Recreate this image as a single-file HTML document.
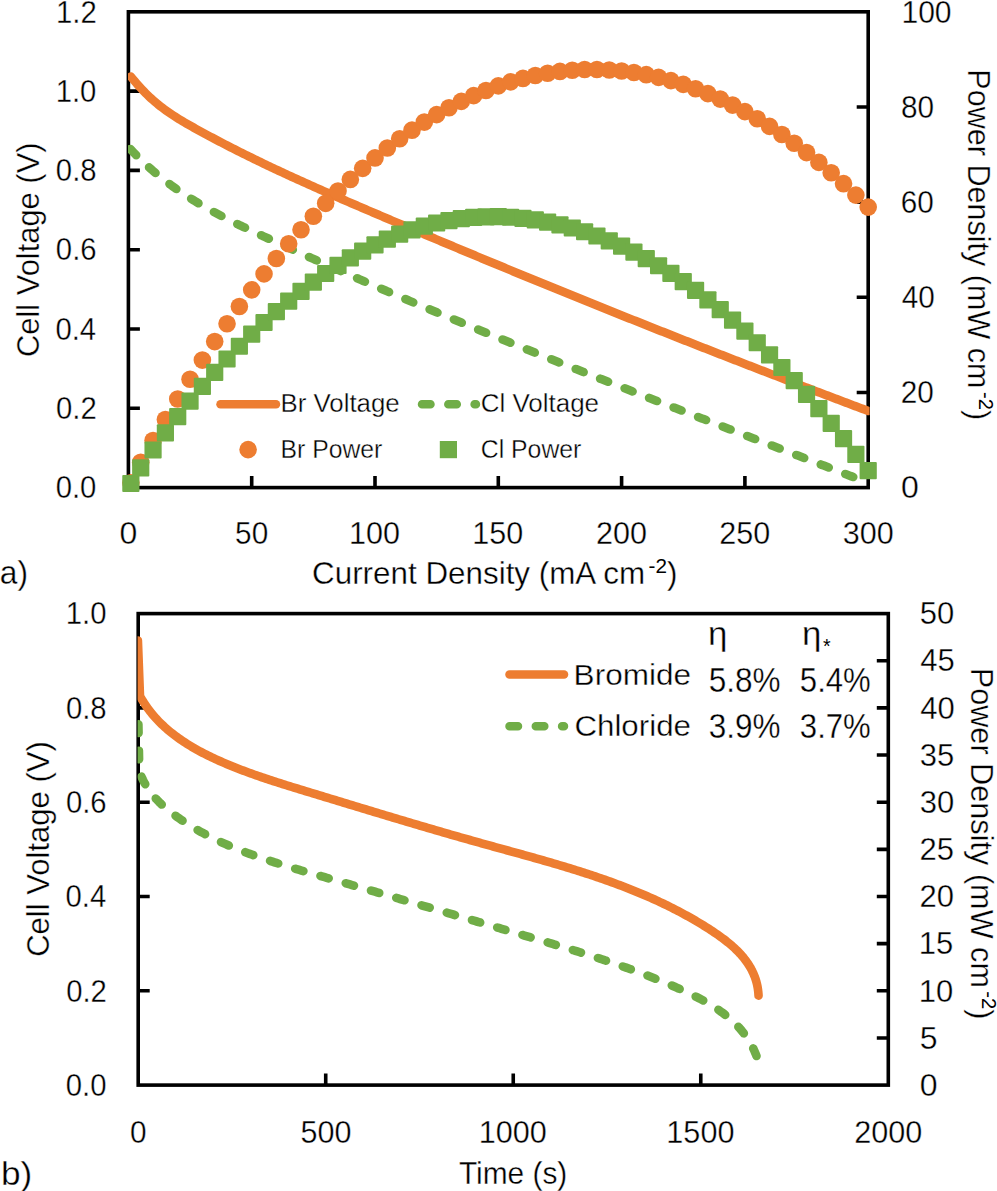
<!DOCTYPE html>
<html><head><meta charset="utf-8"><style>
html,body{margin:0;padding:0;background:#fff;overflow:hidden;}
svg{display:block;}
text{font-family:"Liberation Sans", sans-serif;}
</style></head><body>
<svg width="997" height="1191" viewBox="0 0 997 1191">
<rect width="997" height="1191" fill="#fff"/>
<defs><clipPath id="ca"><rect x="128.0" y="0" width="741.6" height="507.6"/></clipPath><clipPath id="cb"><rect x="137.6" y="583.6" width="770.0999999999999" height="600"/></clipPath></defs>
<rect x="128.4" y="11.8" width="739.80" height="475.80" fill="none" stroke="#000" stroke-width="3.6"/>
<path d="M128.4,408.30h11.5 M128.4,329.00h11.5 M128.4,249.70h11.5 M128.4,170.40h11.5 M128.4,91.10h11.5 M868.2,392.44h-11.5 M868.2,297.28h-11.5 M868.2,202.12h-11.5 M868.2,106.96h-11.5 M251.70,487.6v-11.5 M375.00,487.6v-11.5 M498.30,487.6v-11.5 M621.60,487.6v-11.5 M744.90,487.6v-11.5" stroke="#000" stroke-width="3.6" fill="none"/>
<g clip-path="url(#ca)">
<path d="M130.87,76.55 L132.71,78.87 L134.56,81.11 L136.41,83.29 L138.26,85.40 L140.11,87.44 L141.95,89.43 L143.80,91.35 L145.65,93.21 L147.50,95.02 L149.35,96.78 L151.19,98.48 L153.04,100.13 L154.89,101.74 L156.74,103.29 L158.59,104.81 L160.43,106.28 L162.28,107.71 L164.13,109.10 L165.98,110.45 L167.83,111.77 L169.67,113.05 L171.52,114.31 L173.37,115.53 L175.22,116.73 L177.06,117.90 L178.91,119.05 L180.76,120.18 L182.61,121.28 L184.46,122.37 L186.30,123.45 L188.15,124.51 L190.00,125.56 L191.85,126.60 L193.70,127.63 L195.54,128.65 L197.39,129.67 L199.24,130.69 L201.09,131.70 L202.94,132.70 L204.78,133.71 L206.63,134.70 L208.48,135.70 L210.33,136.69 L212.18,137.67 L214.02,138.65 L215.87,139.63 L217.72,140.60 L219.57,141.57 L221.42,142.54 L223.26,143.50 L225.11,144.46 L226.96,145.41 L228.81,146.36 L230.66,147.31 L232.50,148.25 L234.35,149.19 L236.20,150.13 L238.05,151.06 L239.90,151.99 L241.74,152.91 L243.59,153.83 L245.44,154.75 L247.29,155.66 L249.14,156.58 L250.98,157.48 L252.83,158.39 L254.68,159.29 L256.53,160.19 L258.37,161.09 L260.22,161.98 L262.07,162.87 L263.92,163.76 L265.77,164.64 L267.61,165.52 L269.46,166.40 L271.31,167.27 L273.16,168.15 L275.01,169.02 L276.85,169.88 L278.70,170.75 L280.55,171.61 L282.40,172.47 L284.25,173.33 L286.09,174.18 L287.94,175.04 L289.79,175.89 L291.64,176.74 L293.49,177.58 L295.33,178.42 L297.18,179.27 L299.03,180.11 L300.88,180.94 L302.73,181.78 L304.57,182.61 L306.42,183.44 L308.27,184.27 L310.12,185.10 L311.97,185.93 L313.81,186.75 L315.66,187.57 L317.51,188.39 L319.36,189.21 L321.21,190.03 L323.05,190.85 L324.90,191.66 L326.75,192.47 L328.60,193.28 L330.45,194.09 L332.29,194.90 L334.14,195.71 L335.99,196.52 L337.84,197.32 L339.68,198.13 L341.53,198.93 L343.38,199.73 L345.23,200.53 L347.08,201.33 L348.92,202.13 L350.77,202.93 L352.62,203.73 L354.47,204.52 L356.32,205.32 L358.16,206.11 L360.01,206.91 L361.86,207.70 L363.71,208.49 L365.56,209.29 L367.40,210.08 L369.25,210.87 L371.10,211.66 L372.95,212.45 L374.80,213.24 L376.64,214.03 L378.49,214.82 L380.34,215.61 L382.19,216.40 L384.04,217.19 L385.88,217.98 L387.73,218.76 L389.58,219.55 L391.43,220.34 L393.28,221.12 L395.12,221.91 L396.97,222.69 L398.82,223.48 L400.67,224.26 L402.52,225.05 L404.36,225.83 L406.21,226.62 L408.06,227.40 L409.91,228.18 L411.76,228.97 L413.60,229.75 L415.45,230.53 L417.30,231.31 L419.15,232.09 L420.99,232.87 L422.84,233.65 L424.69,234.43 L426.54,235.21 L428.39,235.99 L430.23,236.77 L432.08,237.55 L433.93,238.33 L435.78,239.10 L437.63,239.88 L439.47,240.66 L441.32,241.43 L443.17,242.21 L445.02,242.98 L446.87,243.76 L448.71,244.53 L450.56,245.31 L452.41,246.08 L454.26,246.86 L456.11,247.63 L457.95,248.40 L459.80,249.18 L461.65,249.95 L463.50,250.72 L465.35,251.49 L467.19,252.26 L469.04,253.03 L470.89,253.80 L472.74,254.57 L474.59,255.34 L476.43,256.11 L478.28,256.88 L480.13,257.65 L481.98,258.42 L483.83,259.18 L485.67,259.95 L487.52,260.72 L489.37,261.48 L491.22,262.25 L493.07,263.02 L494.91,263.78 L496.76,264.55 L498.61,265.31 L500.46,266.07 L502.30,266.84 L504.15,267.60 L506.00,268.36 L507.85,269.13 L509.70,269.89 L511.54,270.65 L513.39,271.41 L515.24,272.17 L517.09,272.93 L518.94,273.70 L520.78,274.46 L522.63,275.22 L524.48,275.97 L526.33,276.73 L528.18,277.49 L530.02,278.25 L531.87,279.01 L533.72,279.77 L535.57,280.52 L537.42,281.28 L539.26,282.04 L541.11,282.79 L542.96,283.55 L544.81,284.30 L546.66,285.06 L548.50,285.81 L550.35,286.57 L552.20,287.32 L554.05,288.07 L555.90,288.83 L557.74,289.58 L559.59,290.33 L561.44,291.08 L563.29,291.83 L565.14,292.58 L566.98,293.34 L568.83,294.09 L570.68,294.84 L572.53,295.59 L574.38,296.33 L576.22,297.08 L578.07,297.83 L579.92,298.58 L581.77,299.33 L583.61,300.08 L585.46,300.82 L587.31,301.57 L589.16,302.32 L591.01,303.06 L592.85,303.81 L594.70,304.55 L596.55,305.30 L598.40,306.04 L600.25,306.79 L602.09,307.53 L603.94,308.27 L605.79,309.02 L607.64,309.76 L609.49,310.50 L611.33,311.24 L613.18,311.99 L615.03,312.73 L616.88,313.47 L618.73,314.21 L620.57,314.95 L622.42,315.69 L624.27,316.43 L626.12,317.17 L627.97,317.91 L629.81,318.64 L631.66,319.38 L633.51,320.12 L635.36,320.86 L637.21,321.59 L639.05,322.33 L640.90,323.07 L642.75,323.80 L644.60,324.54 L646.45,325.27 L648.29,326.01 L650.14,326.74 L651.99,327.48 L653.84,328.21 L655.69,328.94 L657.53,329.68 L659.38,330.41 L661.23,331.14 L663.08,331.87 L664.92,332.61 L666.77,333.34 L668.62,334.07 L670.47,334.80 L672.32,335.53 L674.16,336.26 L676.01,336.99 L677.86,337.72 L679.71,338.45 L681.56,339.17 L683.40,339.90 L685.25,340.63 L687.10,341.36 L688.95,342.08 L690.80,342.81 L692.64,343.54 L694.49,344.26 L696.34,344.99 L698.19,345.71 L700.04,346.44 L701.88,347.16 L703.73,347.89 L705.58,348.61 L707.43,349.33 L709.28,350.06 L711.12,350.78 L712.97,351.50 L714.82,352.23 L716.67,352.95 L718.52,353.67 L720.36,354.39 L722.21,355.11 L724.06,355.83 L725.91,356.55 L727.76,357.27 L729.60,357.99 L731.45,358.71 L733.30,359.43 L735.15,360.15 L737.00,360.86 L738.84,361.58 L740.69,362.30 L742.54,363.02 L744.39,363.73 L746.23,364.45 L748.08,365.16 L749.93,365.88 L751.78,366.59 L753.63,367.31 L755.47,368.02 L757.32,368.74 L759.17,369.45 L761.02,370.17 L762.87,370.88 L764.71,371.59 L766.56,372.30 L768.41,373.02 L770.26,373.73 L772.11,374.44 L773.95,375.15 L775.80,375.86 L777.65,376.57 L779.50,377.28 L781.35,377.99 L783.19,378.70 L785.04,379.41 L786.89,380.12 L788.74,380.83 L790.59,381.53 L792.43,382.24 L794.28,382.95 L796.13,383.66 L797.98,384.36 L799.83,385.07 L801.67,385.77 L803.52,386.48 L805.37,387.19 L807.22,387.89 L809.07,388.60 L810.91,389.30 L812.76,390.00 L814.61,390.71 L816.46,391.41 L818.31,392.11 L820.15,392.82 L822.00,393.52 L823.85,394.22 L825.70,394.92 L827.54,395.62 L829.39,396.32 L831.24,397.02 L833.09,397.72 L834.94,398.42 L836.78,399.12 L838.63,399.82 L840.48,400.52 L842.33,401.22 L844.18,401.92 L846.02,402.62 L847.87,403.32 L849.72,404.01 L851.57,404.71 L853.42,405.41 L855.26,406.10 L857.11,406.80 L858.96,407.49 L860.81,408.19 L862.66,408.88 L864.50,409.58 L866.35,410.27 L868.20,410.97" fill="none" stroke="#ED7D31" stroke-width="8.6" stroke-linecap="round" stroke-linejoin="round"/>
<path d="M130.30,148.97 L132.15,150.93 L134.00,152.86 L135.85,154.75 L137.70,156.61 L139.55,158.44 L141.40,160.23 L143.25,162.00 L145.09,163.73 L146.94,165.43 L148.79,167.11 L150.64,168.75 L152.49,170.37 L154.34,171.96 L156.19,173.52 L158.04,175.06 L159.89,176.57 L161.74,178.05 L163.59,179.51 L165.44,180.95 L167.29,182.36 L169.14,183.75 L170.99,185.12 L172.84,186.46 L174.68,187.79 L176.53,189.09 L178.38,190.38 L180.23,191.64 L182.08,192.89 L183.93,194.12 L185.78,195.33 L187.63,196.53 L189.48,197.71 L191.33,198.87 L193.18,200.02 L195.03,201.15 L196.88,202.28 L198.73,203.38 L200.58,204.48 L202.43,205.56 L204.27,206.63 L206.12,207.69 L207.97,208.73 L209.82,209.77 L211.67,210.79 L213.52,211.80 L215.37,212.80 L217.22,213.80 L219.07,214.78 L220.92,215.75 L222.77,216.71 L224.62,217.67 L226.47,218.62 L228.32,219.56 L230.17,220.49 L232.02,221.41 L233.86,222.33 L235.71,223.24 L237.56,224.14 L239.41,225.04 L241.26,225.93 L243.11,226.82 L244.96,227.70 L246.81,228.58 L248.66,229.45 L250.51,230.32 L252.36,231.18 L254.21,232.04 L256.06,232.90 L257.91,233.76 L259.76,234.61 L261.61,235.46 L263.45,236.31 L265.30,237.16 L267.15,238.01 L269.00,238.85 L270.85,239.70 L272.70,240.54 L274.55,241.39 L276.40,242.23 L278.25,243.07 L280.10,243.91 L281.95,244.75 L283.80,245.59 L285.65,246.43 L287.50,247.27 L289.35,248.11 L291.20,248.94 L293.04,249.78 L294.89,250.61 L296.74,251.45 L298.59,252.28 L300.44,253.11 L302.29,253.95 L304.14,254.78 L305.99,255.61 L307.84,256.44 L309.69,257.26 L311.54,258.09 L313.39,258.92 L315.24,259.74 L317.09,260.57 L318.94,261.39 L320.79,262.22 L322.63,263.04 L324.48,263.86 L326.33,264.68 L328.18,265.50 L330.03,266.32 L331.88,267.14 L333.73,267.96 L335.58,268.78 L337.43,269.59 L339.28,270.41 L341.13,271.22 L342.98,272.04 L344.83,272.85 L346.68,273.66 L348.53,274.48 L350.38,275.29 L352.22,276.10 L354.07,276.91 L355.92,277.72 L357.77,278.52 L359.62,279.33 L361.47,280.14 L363.32,280.94 L365.17,281.75 L367.02,282.55 L368.87,283.35 L370.72,284.16 L372.57,284.96 L374.42,285.76 L376.27,286.56 L378.12,287.36 L379.97,288.16 L381.81,288.96 L383.66,289.75 L385.51,290.55 L387.36,291.35 L389.21,292.14 L391.06,292.93 L392.91,293.73 L394.76,294.52 L396.61,295.31 L398.46,296.10 L400.31,296.89 L402.16,297.68 L404.01,298.47 L405.86,299.26 L407.71,300.05 L409.56,300.84 L411.40,301.62 L413.25,302.41 L415.10,303.19 L416.95,303.98 L418.80,304.76 L420.65,305.54 L422.50,306.32 L424.35,307.10 L426.20,307.88 L428.05,308.66 L429.90,309.44 L431.75,310.22 L433.60,311.00 L435.45,311.78 L437.30,312.55 L439.15,313.33 L440.99,314.10 L442.84,314.88 L444.69,315.65 L446.54,316.42 L448.39,317.20 L450.24,317.97 L452.09,318.74 L453.94,319.51 L455.79,320.28 L457.64,321.05 L459.49,321.81 L461.34,322.58 L463.19,323.35 L465.04,324.12 L466.89,324.88 L468.74,325.65 L470.58,326.41 L472.43,327.18 L474.28,327.94 L476.13,328.70 L477.98,329.46 L479.83,330.22 L481.68,330.99 L483.53,331.75 L485.38,332.51 L487.23,333.26 L489.08,334.02 L490.93,334.78 L492.78,335.54 L494.63,336.30 L496.48,337.05 L498.33,337.81 L500.17,338.56 L502.02,339.32 L503.87,340.07 L505.72,340.83 L507.57,341.58 L509.42,342.33 L511.27,343.08 L513.12,343.83 L514.97,344.59 L516.82,345.34 L518.67,346.09 L520.52,346.83 L522.37,347.58 L524.22,348.33 L526.07,349.08 L527.92,349.83 L529.76,350.57 L531.61,351.32 L533.46,352.07 L535.31,352.81 L537.16,353.56 L539.01,354.30 L540.86,355.04 L542.71,355.79 L544.56,356.53 L546.41,357.27 L548.26,358.02 L550.11,358.76 L551.96,359.50 L553.81,360.24 L555.66,360.98 L557.51,361.72 L559.35,362.46 L561.20,363.20 L563.05,363.94 L564.90,364.68 L566.75,365.41 L568.60,366.15 L570.45,366.89 L572.30,367.62 L574.15,368.36 L576.00,369.10 L577.85,369.83 L579.70,370.57 L581.55,371.30 L583.40,372.03 L585.25,372.77 L587.10,373.50 L588.94,374.23 L590.79,374.97 L592.64,375.70 L594.49,376.43 L596.34,377.16 L598.19,377.89 L600.04,378.63 L601.89,379.36 L603.74,380.09 L605.59,380.82 L607.44,381.55 L609.29,382.27 L611.14,383.00 L612.99,383.73 L614.84,384.46 L616.69,385.19 L618.53,385.92 L620.38,386.64 L622.23,387.37 L624.08,388.10 L625.93,388.82 L627.78,389.55 L629.63,390.27 L631.48,391.00 L633.33,391.72 L635.18,392.45 L637.03,393.17 L638.88,393.90 L640.73,394.62 L642.58,395.35 L644.43,396.07 L646.28,396.79 L648.12,397.52 L649.97,398.24 L651.82,398.96 L653.67,399.68 L655.52,400.41 L657.37,401.13 L659.22,401.85 L661.07,402.57 L662.92,403.29 L664.77,404.01 L666.62,404.73 L668.47,405.45 L670.32,406.17 L672.17,406.90 L674.02,407.62 L675.87,408.33 L677.71,409.05 L679.56,409.77 L681.41,410.49 L683.26,411.21 L685.11,411.93 L686.96,412.65 L688.81,413.37 L690.66,414.09 L692.51,414.80 L694.36,415.52 L696.21,416.24 L698.06,416.96 L699.91,417.67 L701.76,418.39 L703.61,419.11 L705.46,419.83 L707.30,420.54 L709.15,421.26 L711.00,421.98 L712.85,422.69 L714.70,423.41 L716.55,424.13 L718.40,424.84 L720.25,425.56 L722.10,426.28 L723.95,426.99 L725.80,427.71 L727.65,428.42 L729.50,429.14 L731.35,429.85 L733.20,430.57 L735.05,431.28 L736.89,432.00 L738.74,432.72 L740.59,433.43 L742.44,434.15 L744.29,434.86 L746.14,435.58 L747.99,436.29 L749.84,437.01 L751.69,437.72 L753.54,438.44 L755.39,439.15 L757.24,439.87 L759.09,440.58 L760.94,441.30 L762.79,442.01 L764.64,442.72 L766.48,443.44 L768.33,444.15 L770.18,444.87 L772.03,445.58 L773.88,446.30 L775.73,447.01 L777.58,447.73 L779.43,448.44 L781.28,449.16 L783.13,449.87 L784.98,450.59 L786.83,451.30 L788.68,452.02 L790.53,452.73 L792.38,453.45 L794.23,454.16 L796.07,454.88 L797.92,455.59 L799.77,456.31 L801.62,457.02 L803.47,457.74 L805.32,458.45 L807.17,459.17 L809.02,459.88 L810.87,460.60 L812.72,461.32 L814.57,462.03 L816.42,462.75 L818.27,463.46 L820.12,464.18 L821.97,464.89 L823.82,465.61 L825.66,466.33 L827.51,467.04 L829.36,467.76 L831.21,468.48 L833.06,469.19 L834.91,469.91 L836.76,470.63 L838.61,471.35 L840.46,472.06 L842.31,472.78 L844.16,473.50 L846.01,474.22 L847.86,474.93 L849.71,475.65 L851.56,476.37 L853.41,477.09 L855.25,477.81 L857.10,478.53 L858.95,479.24 L860.80,479.96 L862.65,480.68 L864.50,481.40 L866.35,482.12 L868.20,482.84" fill="none" stroke="#70AD47" stroke-width="8.6" stroke-linecap="round" stroke-linejoin="round" stroke-dasharray="8.5 17.8"/>
</g>
<circle cx="130.87" cy="482.70" r="8.8" fill="#ED7D31"/>
<circle cx="140.73" cy="462.31" r="8.8" fill="#ED7D31"/>
<circle cx="153.06" cy="440.57" r="8.8" fill="#ED7D31"/>
<circle cx="165.39" cy="419.48" r="8.8" fill="#ED7D31"/>
<circle cx="177.72" cy="399.03" r="8.8" fill="#ED7D31"/>
<circle cx="190.05" cy="379.24" r="8.8" fill="#ED7D31"/>
<circle cx="202.38" cy="360.09" r="8.8" fill="#ED7D31"/>
<circle cx="214.71" cy="341.58" r="8.8" fill="#ED7D31"/>
<circle cx="227.04" cy="323.70" r="8.8" fill="#ED7D31"/>
<circle cx="239.37" cy="306.47" r="8.8" fill="#ED7D31"/>
<circle cx="251.70" cy="289.86" r="8.8" fill="#ED7D31"/>
<circle cx="264.03" cy="273.89" r="8.8" fill="#ED7D31"/>
<circle cx="276.36" cy="258.54" r="8.8" fill="#ED7D31"/>
<circle cx="288.69" cy="243.81" r="8.8" fill="#ED7D31"/>
<circle cx="301.02" cy="229.71" r="8.8" fill="#ED7D31"/>
<circle cx="313.35" cy="216.22" r="8.8" fill="#ED7D31"/>
<circle cx="325.68" cy="203.34" r="8.8" fill="#ED7D31"/>
<circle cx="338.01" cy="191.08" r="8.8" fill="#ED7D31"/>
<circle cx="350.34" cy="179.42" r="8.8" fill="#ED7D31"/>
<circle cx="362.67" cy="168.37" r="8.8" fill="#ED7D31"/>
<circle cx="375.00" cy="157.92" r="8.8" fill="#ED7D31"/>
<circle cx="387.33" cy="148.07" r="8.8" fill="#ED7D31"/>
<circle cx="399.66" cy="138.82" r="8.8" fill="#ED7D31"/>
<circle cx="411.99" cy="130.16" r="8.8" fill="#ED7D31"/>
<circle cx="424.32" cy="122.09" r="8.8" fill="#ED7D31"/>
<circle cx="436.65" cy="114.61" r="8.8" fill="#ED7D31"/>
<circle cx="448.98" cy="107.71" r="8.8" fill="#ED7D31"/>
<circle cx="461.31" cy="101.39" r="8.8" fill="#ED7D31"/>
<circle cx="473.64" cy="95.65" r="8.8" fill="#ED7D31"/>
<circle cx="485.97" cy="90.48" r="8.8" fill="#ED7D31"/>
<circle cx="498.30" cy="85.89" r="8.8" fill="#ED7D31"/>
<circle cx="510.63" cy="81.87" r="8.8" fill="#ED7D31"/>
<circle cx="522.96" cy="78.41" r="8.8" fill="#ED7D31"/>
<circle cx="535.29" cy="75.52" r="8.8" fill="#ED7D31"/>
<circle cx="547.62" cy="73.18" r="8.8" fill="#ED7D31"/>
<circle cx="559.95" cy="71.41" r="8.8" fill="#ED7D31"/>
<circle cx="572.28" cy="70.20" r="8.8" fill="#ED7D31"/>
<circle cx="584.61" cy="69.55" r="8.8" fill="#ED7D31"/>
<circle cx="596.94" cy="69.46" r="8.8" fill="#ED7D31"/>
<circle cx="609.27" cy="69.93" r="8.8" fill="#ED7D31"/>
<circle cx="621.60" cy="70.95" r="8.8" fill="#ED7D31"/>
<circle cx="633.93" cy="72.53" r="8.8" fill="#ED7D31"/>
<circle cx="646.26" cy="74.66" r="8.8" fill="#ED7D31"/>
<circle cx="658.59" cy="77.35" r="8.8" fill="#ED7D31"/>
<circle cx="670.92" cy="80.60" r="8.8" fill="#ED7D31"/>
<circle cx="683.25" cy="84.39" r="8.8" fill="#ED7D31"/>
<circle cx="695.58" cy="88.74" r="8.8" fill="#ED7D31"/>
<circle cx="707.91" cy="93.64" r="8.8" fill="#ED7D31"/>
<circle cx="720.24" cy="99.09" r="8.8" fill="#ED7D31"/>
<circle cx="732.57" cy="105.09" r="8.8" fill="#ED7D31"/>
<circle cx="744.90" cy="111.64" r="8.8" fill="#ED7D31"/>
<circle cx="757.23" cy="118.73" r="8.8" fill="#ED7D31"/>
<circle cx="769.56" cy="126.37" r="8.8" fill="#ED7D31"/>
<circle cx="781.89" cy="134.56" r="8.8" fill="#ED7D31"/>
<circle cx="794.22" cy="143.30" r="8.8" fill="#ED7D31"/>
<circle cx="806.55" cy="152.58" r="8.8" fill="#ED7D31"/>
<circle cx="818.88" cy="162.40" r="8.8" fill="#ED7D31"/>
<circle cx="831.21" cy="172.76" r="8.8" fill="#ED7D31"/>
<circle cx="843.54" cy="183.67" r="8.8" fill="#ED7D31"/>
<circle cx="855.87" cy="195.12" r="8.8" fill="#ED7D31"/>
<circle cx="868.20" cy="207.11" r="8.8" fill="#ED7D31"/>
<rect x="122.27" y="474.90" width="17.2" height="17.2" rx="1" fill="#70AD47"/>
<rect x="132.13" y="459.26" width="17.2" height="17.2" rx="1" fill="#70AD47"/>
<rect x="144.46" y="441.38" width="17.2" height="17.2" rx="1" fill="#70AD47"/>
<rect x="156.79" y="424.33" width="17.2" height="17.2" rx="1" fill="#70AD47"/>
<rect x="169.12" y="408.09" width="17.2" height="17.2" rx="1" fill="#70AD47"/>
<rect x="181.45" y="392.61" width="17.2" height="17.2" rx="1" fill="#70AD47"/>
<rect x="193.78" y="377.87" width="17.2" height="17.2" rx="1" fill="#70AD47"/>
<rect x="206.11" y="363.81" width="17.2" height="17.2" rx="1" fill="#70AD47"/>
<rect x="218.44" y="350.41" width="17.2" height="17.2" rx="1" fill="#70AD47"/>
<rect x="230.77" y="337.63" width="17.2" height="17.2" rx="1" fill="#70AD47"/>
<rect x="243.10" y="325.47" width="17.2" height="17.2" rx="1" fill="#70AD47"/>
<rect x="255.43" y="313.91" width="17.2" height="17.2" rx="1" fill="#70AD47"/>
<rect x="267.76" y="302.94" width="17.2" height="17.2" rx="1" fill="#70AD47"/>
<rect x="280.09" y="292.57" width="17.2" height="17.2" rx="1" fill="#70AD47"/>
<rect x="292.42" y="282.78" width="17.2" height="17.2" rx="1" fill="#70AD47"/>
<rect x="304.75" y="273.56" width="17.2" height="17.2" rx="1" fill="#70AD47"/>
<rect x="317.08" y="264.91" width="17.2" height="17.2" rx="1" fill="#70AD47"/>
<rect x="329.41" y="256.85" width="17.2" height="17.2" rx="1" fill="#70AD47"/>
<rect x="341.74" y="249.37" width="17.2" height="17.2" rx="1" fill="#70AD47"/>
<rect x="354.07" y="242.50" width="17.2" height="17.2" rx="1" fill="#70AD47"/>
<rect x="366.40" y="236.23" width="17.2" height="17.2" rx="1" fill="#70AD47"/>
<rect x="378.73" y="230.59" width="17.2" height="17.2" rx="1" fill="#70AD47"/>
<rect x="391.06" y="225.59" width="17.2" height="17.2" rx="1" fill="#70AD47"/>
<rect x="403.39" y="221.23" width="17.2" height="17.2" rx="1" fill="#70AD47"/>
<rect x="415.72" y="217.50" width="17.2" height="17.2" rx="1" fill="#70AD47"/>
<rect x="428.05" y="214.41" width="17.2" height="17.2" rx="1" fill="#70AD47"/>
<rect x="440.38" y="211.94" width="17.2" height="17.2" rx="1" fill="#70AD47"/>
<rect x="452.71" y="210.08" width="17.2" height="17.2" rx="1" fill="#70AD47"/>
<rect x="465.04" y="208.83" width="17.2" height="17.2" rx="1" fill="#70AD47"/>
<rect x="477.37" y="208.18" width="17.2" height="17.2" rx="1" fill="#70AD47"/>
<rect x="489.70" y="208.12" width="17.2" height="17.2" rx="1" fill="#70AD47"/>
<rect x="502.03" y="208.65" width="17.2" height="17.2" rx="1" fill="#70AD47"/>
<rect x="514.36" y="209.73" width="17.2" height="17.2" rx="1" fill="#70AD47"/>
<rect x="526.69" y="211.36" width="17.2" height="17.2" rx="1" fill="#70AD47"/>
<rect x="539.02" y="213.53" width="17.2" height="17.2" rx="1" fill="#70AD47"/>
<rect x="551.35" y="216.22" width="17.2" height="17.2" rx="1" fill="#70AD47"/>
<rect x="563.68" y="219.42" width="17.2" height="17.2" rx="1" fill="#70AD47"/>
<rect x="576.01" y="223.15" width="17.2" height="17.2" rx="1" fill="#70AD47"/>
<rect x="588.34" y="227.41" width="17.2" height="17.2" rx="1" fill="#70AD47"/>
<rect x="600.67" y="232.23" width="17.2" height="17.2" rx="1" fill="#70AD47"/>
<rect x="613.00" y="237.61" width="17.2" height="17.2" rx="1" fill="#70AD47"/>
<rect x="625.33" y="243.57" width="17.2" height="17.2" rx="1" fill="#70AD47"/>
<rect x="637.66" y="250.09" width="17.2" height="17.2" rx="1" fill="#70AD47"/>
<rect x="649.99" y="257.17" width="17.2" height="17.2" rx="1" fill="#70AD47"/>
<rect x="662.32" y="264.83" width="17.2" height="17.2" rx="1" fill="#70AD47"/>
<rect x="674.65" y="273.05" width="17.2" height="17.2" rx="1" fill="#70AD47"/>
<rect x="686.98" y="281.83" width="17.2" height="17.2" rx="1" fill="#70AD47"/>
<rect x="699.31" y="291.18" width="17.2" height="17.2" rx="1" fill="#70AD47"/>
<rect x="711.64" y="301.09" width="17.2" height="17.2" rx="1" fill="#70AD47"/>
<rect x="723.97" y="311.56" width="17.2" height="17.2" rx="1" fill="#70AD47"/>
<rect x="736.30" y="322.57" width="17.2" height="17.2" rx="1" fill="#70AD47"/>
<rect x="748.63" y="334.13" width="17.2" height="17.2" rx="1" fill="#70AD47"/>
<rect x="760.96" y="346.24" width="17.2" height="17.2" rx="1" fill="#70AD47"/>
<rect x="773.29" y="358.88" width="17.2" height="17.2" rx="1" fill="#70AD47"/>
<rect x="785.62" y="372.06" width="17.2" height="17.2" rx="1" fill="#70AD47"/>
<rect x="797.95" y="385.76" width="17.2" height="17.2" rx="1" fill="#70AD47"/>
<rect x="810.28" y="399.99" width="17.2" height="17.2" rx="1" fill="#70AD47"/>
<rect x="822.61" y="414.74" width="17.2" height="17.2" rx="1" fill="#70AD47"/>
<rect x="834.94" y="430.01" width="17.2" height="17.2" rx="1" fill="#70AD47"/>
<rect x="847.27" y="445.79" width="17.2" height="17.2" rx="1" fill="#70AD47"/>
<rect x="859.60" y="462.07" width="17.2" height="17.2" rx="1" fill="#70AD47"/>
<rect x="138.2" y="613.6" width="750.10" height="471.50" fill="none" stroke="#000" stroke-width="3.6"/>
<path d="M138.2,990.80h11.5 M138.2,896.50h11.5 M138.2,802.20h11.5 M138.2,707.90h11.5 M888.3,1037.95h-11.5 M888.3,990.80h-11.5 M888.3,943.65h-11.5 M888.3,896.50h-11.5 M888.3,849.35h-11.5 M888.3,802.20h-11.5 M888.3,755.05h-11.5 M888.3,707.90h-11.5 M888.3,660.75h-11.5 M325.72,1085.1v-11.5 M513.25,1085.1v-11.5 M700.77,1085.1v-11.5" stroke="#000" stroke-width="3.6" fill="none"/>
<g clip-path="url(#cb)">
<path d="M138.40,724.40 L139.30,770.50 L139.92,772.46 L140.61,774.38 L141.34,776.27 L142.13,778.12 L142.97,779.93 L143.86,781.71 L144.79,783.46 L145.77,785.17 L146.80,786.85 L147.86,788.50 L148.97,790.12 L150.12,791.71 L151.31,793.27 L152.53,794.80 L153.79,796.31 L155.09,797.78 L156.41,799.23 L157.77,800.66 L159.15,802.06 L160.57,803.43 L162.00,804.79 L163.47,806.12 L164.95,807.42 L166.46,808.71 L167.99,809.98 L169.53,811.22 L171.09,812.45 L172.67,813.66 L174.26,814.85 L175.87,816.03 L177.48,817.19 L179.10,818.33 L180.73,819.46 L182.37,820.57 L184.02,821.67 L185.68,822.76 L187.34,823.83 L189.02,824.88 L190.70,825.93 L192.38,826.96 L194.08,827.97 L195.78,828.97 L197.49,829.96 L199.21,830.94 L200.93,831.90 L202.66,832.86 L204.40,833.79 L206.15,834.72 L207.90,835.64 L209.66,836.54 L211.42,837.43 L213.19,838.31 L214.97,839.18 L216.75,840.04 L218.54,840.89 L220.34,841.73 L222.14,842.55 L223.94,843.37 L225.76,844.18 L227.57,844.97 L229.40,845.76 L231.22,846.54 L233.06,847.31 L234.89,848.07 L236.74,848.82 L238.58,849.56 L240.43,850.30 L242.29,851.02 L244.15,851.74 L246.02,852.45 L247.89,853.16 L249.76,853.85 L251.64,854.54 L253.52,855.22 L255.40,855.89 L257.29,856.56 L259.18,857.22 L261.08,857.88 L262.97,858.53 L264.88,859.17 L266.78,859.81 L268.69,860.44 L270.60,861.06 L272.51,861.68 L274.42,862.30 L276.34,862.91 L278.26,863.52 L280.18,864.12 L282.11,864.72 L284.04,865.31 L285.96,865.90 L287.89,866.49 L289.82,867.08 L291.76,867.66 L293.69,868.23 L295.63,868.81 L297.57,869.38 L299.50,869.95 L301.44,870.52 L303.38,871.08 L305.32,871.65 L307.26,872.21 L309.21,872.77 L311.15,873.33 L313.09,873.89 L315.03,874.44 L316.98,875.00 L318.92,875.56 L320.86,876.11 L322.80,876.67 L324.75,877.23 L326.69,877.78 L328.63,878.34 L330.57,878.90 L332.51,879.45 L334.45,880.01 L336.39,880.57 L338.33,881.12 L340.27,881.68 L342.20,882.24 L344.14,882.80 L346.08,883.35 L348.01,883.91 L349.95,884.47 L351.89,885.03 L353.82,885.59 L355.76,886.15 L357.69,886.70 L359.62,887.26 L361.56,887.82 L363.49,888.38 L365.42,888.94 L367.36,889.50 L369.29,890.06 L371.22,890.62 L373.15,891.18 L375.08,891.74 L377.01,892.30 L378.94,892.86 L380.87,893.42 L382.80,893.98 L384.73,894.54 L386.65,895.10 L388.58,895.66 L390.51,896.22 L392.44,896.78 L394.36,897.34 L396.29,897.90 L398.21,898.46 L400.14,899.03 L402.06,899.59 L403.99,900.15 L405.91,900.71 L407.83,901.27 L409.76,901.83 L411.68,902.39 L413.60,902.96 L415.52,903.52 L417.44,904.08 L419.36,904.64 L421.28,905.20 L423.20,905.76 L425.12,906.33 L427.04,906.89 L428.96,907.45 L430.88,908.01 L432.79,908.57 L434.71,909.13 L436.63,909.70 L438.54,910.26 L440.46,910.82 L442.38,911.38 L444.29,911.94 L446.21,912.51 L448.12,913.07 L450.03,913.63 L451.95,914.19 L453.86,914.75 L455.77,915.32 L457.68,915.88 L459.60,916.44 L461.51,917.00 L463.42,917.56 L465.33,918.13 L467.24,918.69 L469.15,919.25 L471.06,919.81 L472.96,920.37 L474.87,920.94 L476.78,921.50 L478.69,922.06 L480.60,922.62 L482.50,923.18 L484.41,923.74 L486.31,924.31 L488.22,924.87 L490.12,925.43 L492.03,925.99 L493.93,926.55 L495.84,927.11 L497.74,927.67 L499.64,928.23 L501.54,928.80 L503.45,929.36 L505.35,929.92 L507.25,930.48 L509.15,931.04 L511.05,931.60 L512.95,932.16 L514.85,932.72 L516.75,933.28 L518.65,933.84 L520.54,934.40 L522.44,934.96 L524.34,935.52 L526.24,936.08 L528.13,936.64 L530.03,937.20 L531.92,937.76 L533.82,938.32 L535.71,938.88 L537.61,939.44 L539.50,940.00 L541.40,940.56 L543.29,941.12 L545.18,941.69 L547.07,942.25 L548.97,942.81 L550.86,943.38 L552.75,943.94 L554.64,944.51 L556.53,945.08 L558.42,945.65 L560.31,946.22 L562.20,946.79 L564.09,947.36 L565.97,947.94 L567.86,948.51 L569.75,949.09 L571.64,949.67 L573.52,950.25 L575.41,950.84 L577.29,951.42 L579.18,952.01 L581.06,952.60 L582.95,953.19 L584.83,953.79 L586.72,954.39 L588.60,954.99 L590.48,955.59 L592.37,956.19 L594.25,956.80 L596.13,957.41 L598.01,958.03 L599.89,958.64 L601.77,959.27 L603.65,959.89 L605.53,960.52 L607.41,961.15 L609.29,961.78 L611.17,962.42 L613.04,963.06 L614.92,963.70 L616.80,964.35 L618.68,965.00 L620.55,965.66 L622.43,966.32 L624.30,966.98 L626.18,967.65 L628.05,968.33 L629.93,969.00 L631.80,969.69 L633.68,970.37 L635.55,971.06 L637.42,971.76 L639.29,972.46 L641.16,973.17 L643.04,973.88 L644.91,974.59 L646.78,975.32 L648.65,976.04 L650.52,976.77 L652.39,977.51 L654.26,978.25 L656.13,979.00 L657.99,979.76 L659.86,980.51 L661.73,981.28 L663.60,982.05 L665.46,982.83 L667.33,983.61 L669.19,984.40 L671.06,985.20 L672.92,986.00 L674.79,986.81 L676.65,987.62 L678.52,988.45 L680.38,989.28 L682.24,990.11 L684.09,990.96 L685.94,991.82 L687.79,992.68 L689.63,993.56 L691.46,994.45 L693.29,995.34 L695.11,996.25 L696.92,997.17 L698.73,998.11 L700.52,999.06 L702.30,1000.02 L704.07,1001.00 L705.83,1001.99 L707.57,1002.99 L709.31,1004.02 L711.02,1005.06 L712.73,1006.11 L714.41,1007.19 L716.09,1008.28 L717.74,1009.39 L719.37,1010.52 L720.99,1011.67 L722.59,1012.84 L724.17,1014.04 L725.72,1015.25 L727.26,1016.48 L728.77,1017.74 L730.26,1019.02 L731.73,1020.32 L733.17,1021.65 L734.59,1023.00 L735.98,1024.38 L737.34,1025.78 L738.68,1027.21 L739.98,1028.67 L741.26,1030.15 L742.51,1031.66 L743.73,1033.20 L744.92,1034.77 L746.08,1036.36 L747.20,1037.99 L748.29,1039.64 L749.35,1041.33 L750.37,1043.05 L751.36,1044.80 L752.31,1046.59 L753.23,1048.40 L754.10,1050.25 L754.94,1052.14 L755.74,1054.05 L756.50,1056.01" fill="none" stroke="#70AD47" stroke-width="8.6" stroke-linecap="round" stroke-linejoin="round" stroke-dasharray="8.5 17.8"/>
<path d="M137.90,640.50 L140.00,696.00 L140.98,697.79 L142.00,699.55 L143.04,701.28 L144.11,702.99 L145.21,704.67 L146.33,706.33 L147.49,707.96 L148.67,709.57 L149.87,711.15 L151.10,712.71 L152.36,714.25 L153.64,715.77 L154.94,717.26 L156.27,718.73 L157.62,720.17 L158.99,721.60 L160.39,723.00 L161.80,724.38 L163.24,725.74 L164.70,727.08 L166.18,728.40 L167.67,729.70 L169.19,730.98 L170.72,732.24 L172.27,733.48 L173.84,734.70 L175.43,735.90 L177.03,737.08 L178.65,738.25 L180.28,739.39 L181.93,740.52 L183.59,741.64 L185.27,742.73 L186.96,743.81 L188.66,744.88 L190.38,745.92 L192.11,746.95 L193.85,747.97 L195.60,748.97 L197.36,749.95 L199.13,750.92 L200.90,751.88 L202.69,752.82 L204.49,753.75 L206.29,754.67 L208.11,755.57 L209.92,756.46 L211.75,757.34 L213.58,758.20 L215.42,759.05 L217.26,759.89 L219.10,760.72 L220.95,761.54 L222.80,762.35 L224.66,763.15 L226.52,763.94 L228.38,764.71 L230.24,765.48 L232.10,766.24 L233.96,766.99 L235.83,767.73 L237.69,768.46 L239.56,769.19 L241.42,769.90 L243.29,770.61 L245.16,771.31 L247.03,772.00 L248.89,772.69 L250.76,773.37 L252.63,774.04 L254.50,774.71 L256.38,775.37 L258.25,776.02 L260.12,776.67 L262.00,777.31 L263.87,777.94 L265.75,778.58 L267.62,779.20 L269.50,779.82 L271.38,780.44 L273.25,781.05 L275.13,781.66 L277.01,782.26 L278.89,782.87 L280.77,783.46 L282.65,784.06 L284.54,784.65 L286.42,785.24 L288.30,785.82 L290.19,786.41 L292.07,786.99 L293.96,787.57 L295.84,788.15 L297.73,788.73 L299.62,789.30 L301.51,789.88 L303.39,790.45 L305.28,791.02 L307.17,791.60 L309.06,792.17 L310.96,792.75 L312.85,793.32 L314.74,793.89 L316.63,794.47 L318.53,795.04 L320.42,795.62 L322.32,796.20 L324.21,796.77 L326.11,797.35 L328.01,797.92 L329.90,798.50 L331.80,799.08 L333.70,799.65 L335.60,800.23 L337.50,800.81 L339.40,801.39 L341.30,801.96 L343.20,802.54 L345.11,803.12 L347.01,803.70 L348.91,804.27 L350.82,804.85 L352.72,805.43 L354.63,806.01 L356.53,806.59 L358.44,807.16 L360.35,807.74 L362.26,808.32 L364.16,808.90 L366.07,809.47 L367.98,810.05 L369.89,810.63 L371.80,811.20 L373.71,811.78 L375.62,812.36 L377.54,812.93 L379.45,813.51 L381.36,814.08 L383.28,814.66 L385.19,815.24 L387.10,815.81 L389.02,816.38 L390.94,816.96 L392.85,817.53 L394.77,818.11 L396.69,818.68 L398.60,819.25 L400.52,819.82 L402.44,820.40 L404.36,820.97 L406.28,821.54 L408.20,822.11 L410.12,822.68 L412.04,823.25 L413.97,823.82 L415.89,824.39 L417.81,824.95 L419.73,825.52 L421.66,826.09 L423.58,826.65 L425.51,827.22 L427.43,827.79 L429.36,828.35 L431.28,828.91 L433.21,829.48 L435.14,830.04 L437.06,830.60 L438.99,831.16 L440.92,831.72 L442.85,832.28 L444.78,832.84 L446.71,833.39 L448.64,833.95 L450.57,834.51 L452.50,835.06 L454.43,835.62 L456.37,836.17 L458.30,836.72 L460.23,837.27 L462.16,837.82 L464.10,838.37 L466.03,838.92 L467.97,839.47 L469.90,840.01 L471.84,840.56 L473.77,841.10 L475.71,841.65 L477.64,842.19 L479.58,842.73 L481.52,843.27 L483.46,843.81 L485.39,844.35 L487.33,844.88 L489.27,845.42 L491.21,845.96 L493.15,846.49 L495.09,847.03 L497.03,847.56 L498.97,848.09 L500.91,848.63 L502.84,849.16 L504.78,849.70 L506.72,850.23 L508.66,850.76 L510.60,851.30 L512.54,851.83 L514.48,852.37 L516.42,852.90 L518.35,853.44 L520.29,853.97 L522.23,854.51 L524.16,855.05 L526.10,855.59 L528.04,856.13 L529.97,856.67 L531.90,857.21 L533.84,857.76 L535.77,858.30 L537.70,858.85 L539.64,859.40 L541.57,859.95 L543.50,860.50 L545.42,861.06 L547.35,861.61 L549.28,862.17 L551.21,862.73 L553.13,863.29 L555.06,863.86 L556.98,864.43 L558.90,865.00 L560.82,865.57 L562.74,866.14 L564.66,866.72 L566.58,867.30 L568.49,867.89 L570.41,868.47 L572.32,869.06 L574.23,869.66 L576.14,870.25 L578.05,870.85 L579.96,871.46 L581.86,872.06 L583.77,872.67 L585.67,873.29 L587.57,873.91 L589.47,874.53 L591.37,875.16 L593.26,875.79 L595.16,876.42 L597.05,877.06 L598.94,877.71 L600.83,878.35 L602.71,879.01 L604.59,879.67 L606.48,880.33 L608.36,881.00 L610.23,881.67 L612.11,882.35 L613.98,883.03 L615.85,883.72 L617.72,884.41 L619.59,885.11 L621.45,885.81 L623.31,886.52 L625.17,887.24 L627.03,887.96 L628.88,888.69 L630.73,889.42 L632.58,890.16 L634.43,890.90 L636.27,891.66 L638.11,892.41 L639.95,893.18 L641.78,893.95 L643.61,894.73 L645.44,895.51 L647.27,896.30 L649.09,897.10 L650.91,897.90 L652.73,898.72 L654.55,899.54 L656.36,900.36 L658.17,901.20 L659.97,902.04 L661.77,902.89 L663.57,903.74 L665.37,904.61 L667.16,905.48 L668.95,906.36 L670.73,907.25 L672.51,908.14 L674.29,909.05 L676.07,909.96 L677.84,910.88 L679.60,911.81 L681.37,912.75 L683.13,913.69 L684.88,914.65 L686.64,915.61 L688.39,916.59 L690.13,917.57 L691.87,918.56 L693.61,919.56 L695.34,920.57 L697.07,921.59 L698.80,922.61 L700.52,923.65 L702.24,924.70 L703.95,925.76 L705.66,926.82 L707.36,927.90 L709.06,928.99 L710.76,930.08 L712.45,931.19 L714.13,932.31 L715.80,933.44 L717.46,934.59 L719.11,935.75 L720.74,936.92 L722.36,938.11 L723.96,939.31 L725.55,940.53 L727.11,941.76 L728.66,943.01 L730.18,944.28 L731.68,945.57 L733.15,946.87 L734.60,948.20 L736.01,949.54 L737.40,950.91 L738.76,952.30 L740.09,953.71 L741.38,955.14 L742.64,956.59 L743.86,958.07 L745.04,959.57 L746.18,961.10 L747.29,962.65 L748.35,964.23 L749.36,965.84 L750.33,967.47 L751.26,969.13 L752.14,970.82 L752.96,972.54 L753.74,974.28 L754.47,976.06 L755.14,977.87 L755.75,979.71 L756.32,981.58 L756.82,983.48 L757.26,985.42 L757.64,987.39 L757.96,989.40 L758.22,991.44 L758.41,993.52 L758.54,995.63" fill="none" stroke="#ED7D31" stroke-width="8.6" stroke-linecap="round" stroke-linejoin="round"/>
</g>
<path d="M220.5,404.2H276" stroke="#ED7D31" stroke-width="8.5" stroke-linecap="round"/>
<path d="M422,404.2H476" stroke="#70AD47" stroke-width="8.5" stroke-linecap="round" stroke-dasharray="8.5 17.8"/>
<circle cx="248.1" cy="449.6" r="8.8" fill="#ED7D31"/>
<rect x="439.8" y="441" width="17.2" height="17.2" fill="#70AD47"/>
<path d="M509.5,674.4H564" stroke="#ED7D31" stroke-width="8.5" stroke-linecap="round"/>
<path d="M509.5,726.3H564" stroke="#70AD47" stroke-width="8.5" stroke-linecap="round" stroke-dasharray="8.5 17.8"/>
<g font-family="'Liberation Sans', sans-serif" fill="#000" stroke="#fff" stroke-width="0.35">
<text transform="translate(55.71,498.30) scale(0.9150,1)"><tspan x="0.00" y="0.00" font-size="32">0.0</tspan></text>
<text transform="translate(56.06,419.00) scale(0.9150,1)"><tspan x="0.00" y="0.00" font-size="32">0.2</tspan></text>
<text transform="translate(55.45,339.70) scale(0.9150,1)"><tspan x="0.00" y="0.00" font-size="32">0.4</tspan></text>
<text transform="translate(55.86,260.40) scale(0.9150,1)"><tspan x="0.00" y="0.00" font-size="32">0.6</tspan></text>
<text transform="translate(55.86,181.10) scale(0.9150,1)"><tspan x="0.00" y="0.00" font-size="32">0.8</tspan></text>
<text transform="translate(55.71,101.80) scale(0.9150,1)"><tspan x="0.00" y="0.00" font-size="32">1.0</tspan></text>
<text transform="translate(56.06,22.50) scale(0.9150,1)"><tspan x="0.00" y="0.00" font-size="32">1.2</tspan></text>
<text transform="translate(901.05,498.30) scale(1.0000,1)"><tspan x="0.00" y="0.00" font-size="32">0</tspan></text>
<text transform="translate(900.81,403.14) scale(0.9300,1)"><tspan x="0.00" y="0.00" font-size="32">20</tspan></text>
<text transform="translate(901.65,307.98) scale(0.9300,1)"><tspan x="0.00" y="0.00" font-size="32">40</tspan></text>
<text transform="translate(900.81,212.82) scale(0.9300,1)"><tspan x="0.00" y="0.00" font-size="32">60</tspan></text>
<text transform="translate(901.02,117.66) scale(0.9300,1)"><tspan x="0.00" y="0.00" font-size="32">80</tspan></text>
<text transform="translate(901.41,22.50) scale(0.9400,1)"><tspan x="0.00" y="0.00" font-size="32">100</tspan></text>
<text transform="translate(119.49,544.40) scale(1.0000,1)"><tspan x="0.00" y="0.00" font-size="32">0</tspan></text>
<text transform="translate(235.12,544.40) scale(0.9300,1)"><tspan x="0.00" y="0.00" font-size="32">50</tspan></text>
<text transform="translate(348.93,544.40) scale(0.9550,1)"><tspan x="0.00" y="0.00" font-size="32">100</tspan></text>
<text transform="translate(472.23,544.40) scale(0.9550,1)"><tspan x="0.00" y="0.00" font-size="32">150</tspan></text>
<text transform="translate(595.93,544.40) scale(0.9550,1)"><tspan x="0.00" y="0.00" font-size="32">200</tspan></text>
<text transform="translate(719.23,544.40) scale(0.9550,1)"><tspan x="0.00" y="0.00" font-size="32">250</tspan></text>
<text transform="translate(842.71,544.40) scale(0.9550,1)"><tspan x="0.00" y="0.00" font-size="32">300</tspan></text>
<text transform="translate(65.81,1095.80) scale(0.9150,1)"><tspan x="0.00" y="0.00" font-size="32">0.0</tspan></text>
<text transform="translate(66.16,1001.50) scale(0.9150,1)"><tspan x="0.00" y="0.00" font-size="32">0.2</tspan></text>
<text transform="translate(65.55,907.20) scale(0.9150,1)"><tspan x="0.00" y="0.00" font-size="32">0.4</tspan></text>
<text transform="translate(65.96,812.90) scale(0.9150,1)"><tspan x="0.00" y="0.00" font-size="32">0.6</tspan></text>
<text transform="translate(65.96,718.60) scale(0.9150,1)"><tspan x="0.00" y="0.00" font-size="32">0.8</tspan></text>
<text transform="translate(65.81,624.30) scale(0.9150,1)"><tspan x="0.00" y="0.00" font-size="32">1.0</tspan></text>
<text transform="translate(919.75,1095.80) scale(1.0000,1)"><tspan x="0.00" y="0.00" font-size="32">0</tspan></text>
<text transform="translate(919.72,1048.65) scale(1.0000,1)"><tspan x="0.00" y="0.00" font-size="32">5</tspan></text>
<text transform="translate(918.64,1001.50) scale(0.9700,1)"><tspan x="0.00" y="0.00" font-size="32">10</tspan></text>
<text transform="translate(918.64,954.35) scale(0.9700,1)"><tspan x="0.00" y="0.00" font-size="32">15</tspan></text>
<text transform="translate(919.45,907.20) scale(0.9700,1)"><tspan x="0.00" y="0.00" font-size="32">20</tspan></text>
<text transform="translate(919.45,860.05) scale(0.9700,1)"><tspan x="0.00" y="0.00" font-size="32">25</tspan></text>
<text transform="translate(919.82,812.90) scale(0.9700,1)"><tspan x="0.00" y="0.00" font-size="32">30</tspan></text>
<text transform="translate(919.82,765.75) scale(0.9700,1)"><tspan x="0.00" y="0.00" font-size="32">35</tspan></text>
<text transform="translate(920.32,718.60) scale(0.9700,1)"><tspan x="0.00" y="0.00" font-size="32">40</tspan></text>
<text transform="translate(920.32,671.45) scale(0.9700,1)"><tspan x="0.00" y="0.00" font-size="32">45</tspan></text>
<text transform="translate(919.76,624.30) scale(0.9700,1)"><tspan x="0.00" y="0.00" font-size="32">50</tspan></text>
<text transform="translate(130.11,1143.40) scale(0.9300,1)"><tspan x="0.00" y="0.00" font-size="32">0</tspan></text>
<text transform="translate(300.41,1143.40) scale(0.9550,1)"><tspan x="0.00" y="0.00" font-size="32">500</tspan></text>
<text transform="translate(478.81,1143.40) scale(0.9570,1)"><tspan x="0.00" y="0.00" font-size="32">1000</tspan></text>
<text transform="translate(666.34,1143.40) scale(0.9570,1)"><tspan x="0.00" y="0.00" font-size="32">1500</tspan></text>
<text transform="translate(854.26,1143.40) scale(0.9570,1)"><tspan x="0.00" y="0.00" font-size="32">2000</tspan></text>
<text transform="translate(312.03,583.70) scale(0.9967,1)"><tspan x="0.00" y="0.00" font-size="31.5">Current Density (mA cm</tspan><tspan x="337.65" y="-11.09" font-size="20.790000000000003" stroke="none">-2</tspan><tspan x="356.14" y="0.00" font-size="31.5">)</tspan></text>
<text transform="translate(38.80,357.04) rotate(-90) scale(0.9808,1)"><tspan x="0.00" y="0.00" font-size="31.5">Cell Voltage (V)</tspan></text>
<text transform="translate(48.60,956.85) rotate(-90) scale(0.9859,1)"><tspan x="0.00" y="0.00" font-size="31.5">Cell Voltage (V)</tspan></text>
<text transform="translate(968.10,69.29) rotate(90) scale(0.9708,1)"><tspan x="0.00" y="0.00" font-size="31.5">Power Density (mW cm</tspan><tspan x="332.36" y="-11.09" font-size="20.790000000000003" stroke="none">-2</tspan><tspan x="350.85" y="0.00" font-size="31.5">)</tspan></text>
<text transform="translate(971.40,667.68) rotate(90) scale(0.9739,1)"><tspan x="0.00" y="0.00" font-size="31.5">Power Density (mW cm</tspan><tspan x="332.36" y="-11.09" font-size="20.790000000000003" stroke="none">-2</tspan><tspan x="350.85" y="0.00" font-size="31.5">)</tspan></text>
<text transform="translate(458.94,1183.50) scale(0.9484,1)"><tspan x="0.00" y="0.00" font-size="31.5">Time (s)</tspan></text>
<text transform="translate(-0.13,584.00) scale(0.9612,1)"><tspan x="0.00" y="0.00" font-size="33">a)</tspan></text>
<text transform="translate(0.94,1185.00) scale(1.0848,1)"><tspan x="0.00" y="0.00" font-size="32.5">b)</tspan></text>
<text transform="translate(280.48,412.00) scale(1.0216,1)"><tspan x="0.00" y="0.00" font-size="25.3">Br Voltage</tspan></text>
<text transform="translate(480.70,412.00) scale(1.0271,1)"><tspan x="0.00" y="0.00" font-size="25.3">Cl Voltage</tspan></text>
<text transform="translate(280.57,458.20) scale(0.9788,1)"><tspan x="0.00" y="0.00" font-size="25.3">Br Power</tspan></text>
<text transform="translate(480.76,458.20) scale(0.9805,1)"><tspan x="0.00" y="0.00" font-size="25.3">Cl Power</tspan></text>
<text transform="translate(573.62,685.20) scale(1.0794,1)"><tspan x="0.00" y="0.00" font-size="29.2">Bromide</tspan></text>
<text transform="translate(574.44,736.30) scale(1.0717,1)"><tspan x="0.00" y="0.00" font-size="29.2">Chloride</tspan></text>
<text transform="translate(708.12,645.00) scale(1.0271,1)"><tspan x="0.00" y="0.00" font-size="34">η</tspan></text>
<text transform="translate(802.02,645.00) scale(1.0271,1)"><tspan x="0.00" y="0.00" font-size="34">η</tspan></text>
<text transform="translate(822.99,645.00) scale(0.9538,1)"><tspan x="0.00" y="7.60" font-size="20.5" stroke="none">*</tspan></text>
<text transform="translate(708.64,691.50) scale(0.8883,1)"><tspan x="0.00" y="0.00" font-size="35.5">5.8%</tspan></text>
<text transform="translate(799.85,691.50) scale(0.8768,1)"><tspan x="0.00" y="0.00" font-size="35.5">5.4%</tspan></text>
<text transform="translate(708.70,737.60) scale(0.8875,1)"><tspan x="0.00" y="0.00" font-size="35.5">3.9%</tspan></text>
<text transform="translate(799.82,737.60) scale(0.8772,1)"><tspan x="0.00" y="0.00" font-size="35.5">3.7%</tspan></text>
</g>
</svg>
</body></html>
